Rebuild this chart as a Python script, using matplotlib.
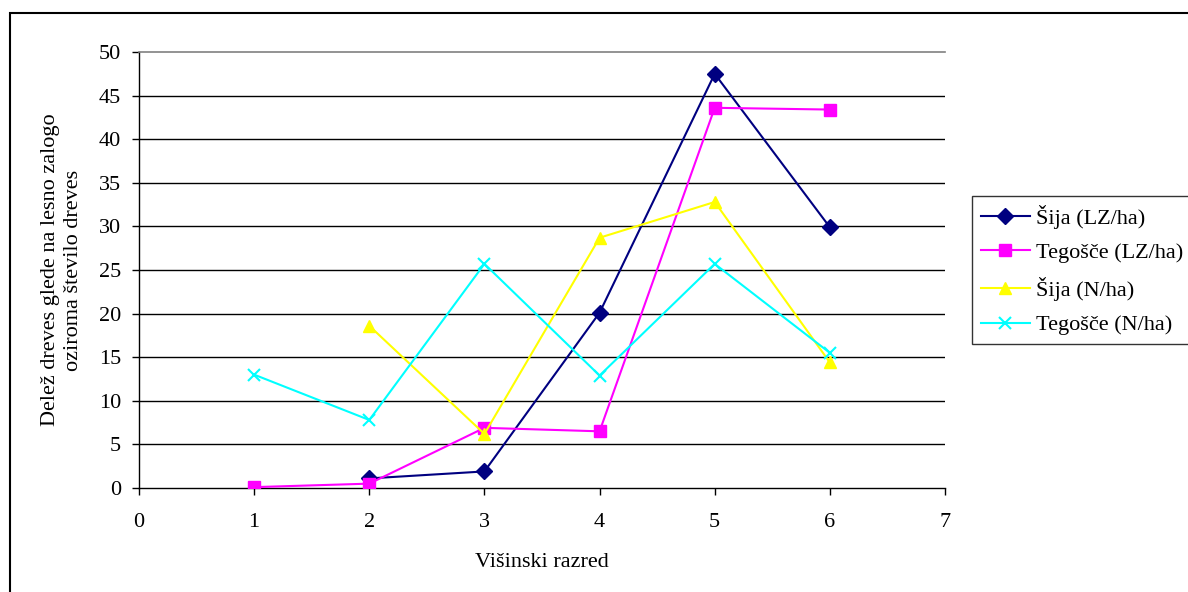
import matplotlib
matplotlib.use("Agg")
import matplotlib.pyplot as plt
from matplotlib.patches import Rectangle
import numpy as np

plt.rcParams['font.family'] = ['Liberation Serif', 'DejaVu Serif']

# Height classes and shares per series
x_sija_lz = [2, 3, 4, 5, 6]
sija_lz = [1.1, 1.9, 20.1, 47.5, 29.9]

x_teg_lz = [1, 2, 3, 4, 5, 6]
teg_lz = [0.1, 0.5, 6.9, 6.5, 43.6, 43.4]

x_sija_n = [2, 3, 4, 5, 6]
sija_n = [18.6, 6.2, 28.7, 32.8, 14.4]

x_teg_n = [1, 2, 3, 4, 5, 6]
teg_n = [13.0, 7.8, 25.7, 12.9, 25.7, 15.5]

labels = ['Šija (LZ/ha)', 'Tegošče (LZ/ha)', 'Šija (N/ha)', 'Tegošče (N/ha)']

x_ticks = list(range(0, 8))
y_ticks = list(range(0, 55, 5))

FS = 16

fig = plt.figure(figsize=(11.88, 5.92), dpi=100)
ax = fig.add_axes([139/1188, 1 - 488/592, (945 - 139)/1188, (488 - 52)/592])

ax.plot(x_sija_lz, sija_lz, color='#000080', lw=1.5, marker='D', ms=8,
        label=labels[0], zorder=3)
ax.plot(x_teg_lz, teg_lz, color='#FF00FF', lw=1.5, marker='s', ms=8,
        label=labels[1], zorder=3)
ax.plot(x_sija_n, sija_n, color='#FFFF00', lw=1.5, marker='^', ms=9,
        label=labels[2], zorder=3)
ax.plot(x_teg_n, teg_n, color='#00FFFF', lw=1.5, marker='x', ms=9, mew=1.5,
        label=labels[3], zorder=3)

ax.set_xlim(0, 7)
ax.set_ylim(0, 50)
ax.set_xticks(x_ticks)
ax.set_yticks(y_ticks)
ax.tick_params(axis='both', labelsize=FS, direction='out', length=5,
               width=1, color='black')
ax.tick_params(axis='x', pad=13)
ax.tick_params(axis='y', pad=8)

for yv in y_ticks[1:-1]:
    ax.axhline(yv, color='black', lw=1, zorder=1)

ax.spines['right'].set_visible(False)
ax.spines['top'].set_color('#808080')
ax.spines['top'].set_linewidth(1.2)
ax.spines['left'].set_linewidth(1)
ax.spines['bottom'].set_linewidth(1)

ax.set_xlabel('Višinski razred', fontsize=FS, labelpad=15)
ax.set_ylabel('Delež dreves glede na lesno zalogo\noziroma število dreves',
              fontsize=FS, labelpad=11, linespacing=1.35)

leg = ax.legend(loc='upper left', bbox_to_anchor=(972/1188, 1 - 196/592),
                bbox_transform=fig.transFigure, borderaxespad=0,
                fontsize=FS, frameon=True, fancybox=False, edgecolor='black',
                handlelength=2.2, labelspacing=0.62, borderpad=0.4,
                handletextpad=0.3)
leg.get_frame().set_linewidth(1)

# Outer chart frame
fig.patches.append(Rectangle((9.5/1188, -0.05), 1.1, 1 - 13/592 + 0.05,
                             transform=fig.transFigure, fill=False,
                             edgecolor='black', lw=1.5))

fig.savefig('out.png', dpi=100)
